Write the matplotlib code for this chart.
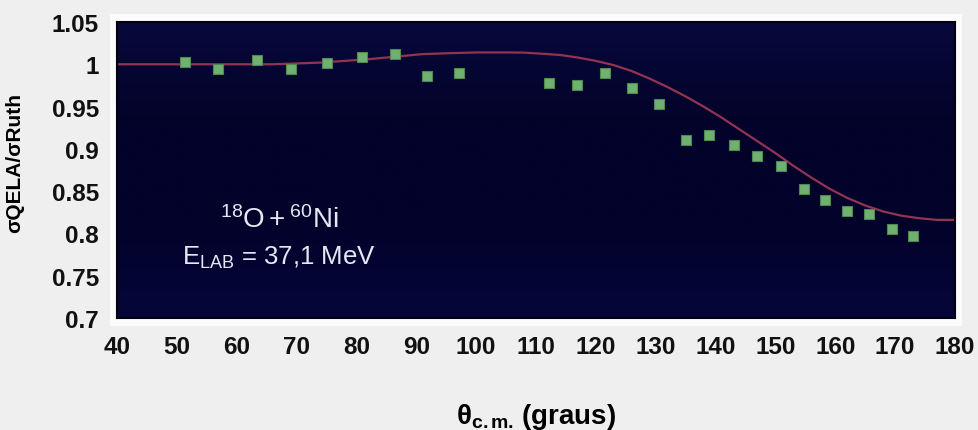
import numpy as np
import matplotlib
matplotlib.use("Agg")
import matplotlib.pyplot as plt
from matplotlib.colors import LinearSegmentedColormap
from matplotlib.patches import Rectangle

# Measured quasi-elastic / Rutherford ratio, 18O + 60Ni at E_LAB = 37.1 MeV
theta_exp = [51.4, 56.9, 63.4, 69.0, 75.1, 80.9, 86.4, 91.8, 97.1,
             112.2, 116.9, 121.5, 126.1, 130.6, 135.0, 138.9, 143.0, 146.9,
             151.0, 154.7, 158.3, 162.0, 165.6, 169.4, 172.9]
ratio_exp = [1.003, 0.995, 1.005, 0.995, 1.001, 1.009, 1.012, 0.986, 0.990,
             0.978, 0.976, 0.990, 0.972, 0.953, 0.910, 0.916, 0.904, 0.891,
             0.880, 0.852, 0.839, 0.827, 0.823, 0.805, 0.797]

# Calculated ratio
theta_calc = [40, 50, 60, 66, 70, 74, 78, 82, 85, 88, 91, 95, 100, 105, 108,
              111, 114, 117, 120, 123, 126, 129, 132, 135, 138, 141, 144, 147,
              150, 153, 156, 159, 162, 165, 168, 171, 174, 177, 180]
ratio_calc = [1.000, 1.000, 1.000, 1.000, 1.001, 1.002, 1.004, 1.006, 1.008,
              1.010, 1.012, 1.013, 1.014, 1.014, 1.0138, 1.0125, 1.011, 1.008,
              1.004, 0.999, 0.992, 0.983, 0.973, 0.962, 0.950, 0.937, 0.923,
              0.909, 0.895, 0.880, 0.866, 0.853, 0.842, 0.833, 0.826, 0.821,
              0.818, 0.816, 0.816]

x_ticks = [40, 50, 60, 70, 80, 90, 100, 110, 120, 130, 140, 150, 160, 170, 180]
y_ticks = [0.70, 0.75, 0.80, 0.85, 0.90, 0.95, 1.00, 1.05]
y_tick_labels = ["0.7", "0.75", "0.8", "0.85", "0.9", "0.95", "1", "1.05"]

plt.rcParams["font.family"] = ["Liberation Sans", "DejaVu Sans"]
plt.rcParams["mathtext.fontset"] = "custom"
plt.rcParams["mathtext.rm"] = "Liberation Sans"
plt.rcParams["mathtext.it"] = "Liberation Sans:italic"
plt.rcParams["mathtext.bf"] = "Liberation Sans:bold"

W, H = 979, 431
fig = plt.figure(figsize=(W / 100, H / 100), dpi=100, facecolor="#efefef")

# light frame around the plotting area
fig.patches.append(Rectangle((110 / W, 1 - 327 / H), (962 - 110) / W, (327 - 15) / H,
                             transform=fig.transFigure, facecolor="#fbfbfb",
                             edgecolor="none", zorder=-5))

ax = fig.add_axes([117 / W, 1 - 319 / H, (955 - 117) / W, (319 - 23) / H])
ax.set_zorder(2)

# dark navy background with a slight vertical shading
bg = LinearSegmentedColormap.from_list("bg", ["#08083c", "#03032a", "#02022a", "#06063a"])
grad = np.linspace(0, 1, 256).reshape(-1, 1)
ax.imshow(grad, cmap=bg, aspect="auto", extent=[0, 1, 0, 1],
          transform=ax.transAxes, zorder=0)

ax.plot(theta_calc, ratio_calc, color="#923450", lw=1.6, zorder=2)
ax.plot(theta_exp, ratio_exp, linestyle="none", marker="s", markersize=7.3,
        markerfacecolor="#70b070", markeredgecolor="#4e8a50", markeredgewidth=0.8,
        zorder=3)

ax.set_xlim(40, 180)
ax.set_ylim(0.70, 1.05)
ax.set_xticks(x_ticks)
ax.set_xticklabels([str(t) for t in x_ticks])
ax.set_yticks(y_ticks)
ax.set_yticklabels(y_tick_labels)
ax.tick_params(length=0, labelsize=17.5, colors="#111111")
ax.tick_params(axis="x", pad=12)
ax.tick_params(axis="y", pad=13)
for lab in ax.get_xticklabels() + ax.get_yticklabels():
    lab.set_fontweight("bold")

for s in ax.spines.values():
    s.set_color("#000010")
    s.set_linewidth(1.5)

ax.set_ylabel(r"σQELA/σRuth", fontsize=15, fontweight="bold")
ax.yaxis.set_label_coords(-0.111, 0.527)
ax.set_xlabel(r"θ$_{\mathbf{c.m.}}\,$(graus)", fontsize=20, fontweight="bold",
              labelpad=31)

ax.text(67.1, 0.8077, r"$^{18}\mathrm{O}+{}^{60}\mathrm{Ni}$", color="#e8e8f4",
        fontsize=20, ha="center", va="baseline", zorder=4)
ax.text(67.0, 0.764, r"E$_{\mathrm{LAB}}$ = 37,1 MeV", color="#e8e8f4",
        fontsize=18.5, ha="center", va="baseline", zorder=4)

fig.savefig("out.png", dpi=100, facecolor=fig.get_facecolor())
